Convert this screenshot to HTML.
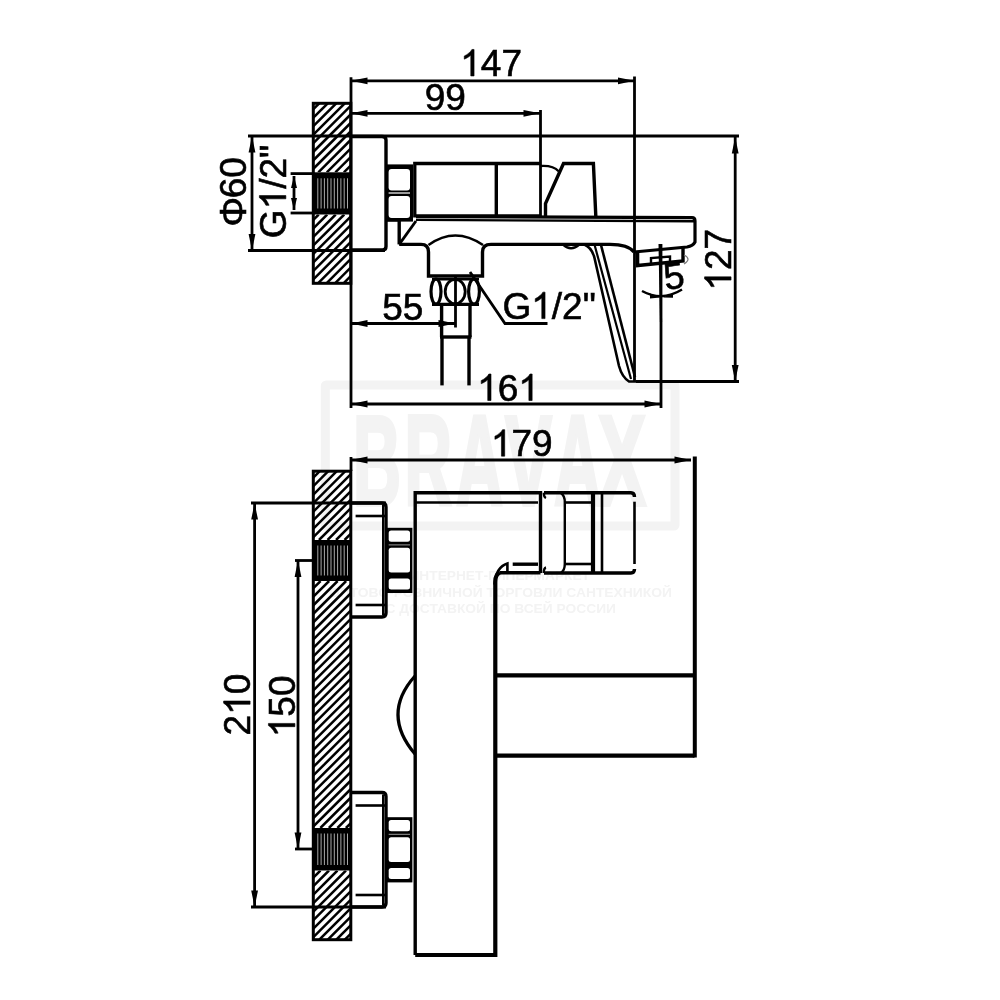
<!DOCTYPE html>
<html><head><meta charset="utf-8"><style>
html,body{margin:0;padding:0;background:#fff;width:1000px;height:1000px;overflow:hidden}
svg{display:block;will-change:transform}
text{font-family:"Liberation Sans",sans-serif;fill:#000}
</style></head><body>
<svg width="1000" height="1000" viewBox="0 0 1000 1000">
<defs><clipPath id="c1"><rect x="313.3" y="103.3" width="37.5" height="69.00000000000001"/></clipPath><clipPath id="c2"><rect x="313.3" y="214.5" width="37.5" height="68.80000000000001"/></clipPath><clipPath id="c3"><rect x="313.3" y="471.2" width="37.5" height="68.80000000000001"/></clipPath><clipPath id="c4"><rect x="313.3" y="581" width="37.5" height="247"/></clipPath><clipPath id="c5"><rect x="313.3" y="870.5" width="37.5" height="69.20000000000005"/></clipPath></defs>
<rect width="1000" height="1000" fill="#fff"/>
<rect x="325.3" y="385" width="349.7" height="141" rx="1" fill="none" stroke="#f3f3f3" stroke-width="9"/><text x="353" y="505" font-size="128" font-weight="bold" style="fill:#f3f3f3;stroke:#f3f3f3;stroke-width:4;font-family:'Liberation Sans'" textLength="48" lengthAdjust="spacingAndGlyphs">B</text><text x="404.5" y="505" font-size="128" font-weight="bold" style="fill:#f3f3f3;stroke:#f3f3f3;stroke-width:4;font-family:'Liberation Sans'" textLength="47.5" lengthAdjust="spacingAndGlyphs">R</text><text x="456" y="505" font-size="128" font-weight="bold" style="fill:#f3f3f3;stroke:#f3f3f3;stroke-width:4;font-family:'Liberation Sans'" textLength="47" lengthAdjust="spacingAndGlyphs">A</text><text x="505" y="505" font-size="128" font-weight="bold" style="fill:#f3f3f3;stroke:#f3f3f3;stroke-width:4;font-family:'Liberation Sans'" textLength="47" lengthAdjust="spacingAndGlyphs">V</text><text x="554" y="505" font-size="128" font-weight="bold" style="fill:#f3f3f3;stroke:#f3f3f3;stroke-width:4;font-family:'Liberation Sans'" textLength="47" lengthAdjust="spacingAndGlyphs">A</text><text x="598" y="505" font-size="128" font-weight="bold" style="fill:#f3f3f3;stroke:#f3f3f3;stroke-width:4;font-family:'Liberation Sans'" textLength="48" lengthAdjust="spacingAndGlyphs">X</text><text x="409.5" y="579.7" font-size="12.5" font-weight="bold" style="fill:#f3f3f3;font-family:'Liberation Sans'" textLength="180.5" lengthAdjust="spacingAndGlyphs">ИНТЕРНЕТ-ГИПЕРМАРКЕТ</text><text x="329" y="596.5" font-size="12.5" font-weight="bold" style="fill:#f3f3f3;font-family:'Liberation Sans'" textLength="343" lengthAdjust="spacingAndGlyphs">ОПТОВО-РОЗНИЧНОЙ ТОРГОВЛИ САНТЕХНИКОЙ</text><text x="385.5" y="613.3" font-size="12.5" font-weight="bold" style="fill:#f3f3f3;font-family:'Liberation Sans'" textLength="230.5" lengthAdjust="spacingAndGlyphs">С ДОСТАВКОЙ ПО ВСЕЙ РОССИИ</text><g clip-path="url(#c1)" stroke="#000" stroke-width="2.5"><line x1="233.24" y1="172.30" x2="302.24" y2="103.30"/><line x1="241.75" y1="172.30" x2="310.75" y2="103.30"/><line x1="250.26" y1="172.30" x2="319.26" y2="103.30"/><line x1="258.77" y1="172.30" x2="327.77" y2="103.30"/><line x1="267.28" y1="172.30" x2="336.28" y2="103.30"/><line x1="275.79" y1="172.30" x2="344.79" y2="103.30"/><line x1="284.30" y1="172.30" x2="353.30" y2="103.30"/><line x1="292.81" y1="172.30" x2="361.81" y2="103.30"/><line x1="301.32" y1="172.30" x2="370.32" y2="103.30"/><line x1="309.83" y1="172.30" x2="378.83" y2="103.30"/><line x1="318.34" y1="172.30" x2="387.34" y2="103.30"/><line x1="326.85" y1="172.30" x2="395.85" y2="103.30"/><line x1="335.36" y1="172.30" x2="404.36" y2="103.30"/><line x1="343.87" y1="172.30" x2="412.87" y2="103.30"/><line x1="352.38" y1="172.30" x2="421.38" y2="103.30"/></g><g clip-path="url(#c2)" stroke="#000" stroke-width="2.5"><line x1="232.87" y1="283.30" x2="301.67" y2="214.50"/><line x1="241.38" y1="283.30" x2="310.18" y2="214.50"/><line x1="249.89" y1="283.30" x2="318.69" y2="214.50"/><line x1="258.40" y1="283.30" x2="327.20" y2="214.50"/><line x1="266.91" y1="283.30" x2="335.71" y2="214.50"/><line x1="275.42" y1="283.30" x2="344.22" y2="214.50"/><line x1="283.93" y1="283.30" x2="352.73" y2="214.50"/><line x1="292.44" y1="283.30" x2="361.24" y2="214.50"/><line x1="300.95" y1="283.30" x2="369.75" y2="214.50"/><line x1="309.46" y1="283.30" x2="378.26" y2="214.50"/><line x1="317.97" y1="283.30" x2="386.77" y2="214.50"/><line x1="326.48" y1="283.30" x2="395.28" y2="214.50"/><line x1="334.99" y1="283.30" x2="403.79" y2="214.50"/><line x1="343.50" y1="283.30" x2="412.30" y2="214.50"/><line x1="352.01" y1="283.30" x2="420.81" y2="214.50"/></g><rect x="313.3" y="172.3" width="37.5" height="42.19999999999999" fill="#000"/><g stroke="#bbb" stroke-width="0.9"><line x1="317.8" y1="178.3" x2="317.8" y2="208.5"/><line x1="321.1" y1="178.3" x2="321.1" y2="208.5"/><line x1="324.4" y1="178.3" x2="324.4" y2="208.5"/><line x1="327.7" y1="178.3" x2="327.7" y2="208.5"/><line x1="331.0" y1="178.3" x2="331.0" y2="208.5"/><line x1="334.3" y1="178.3" x2="334.3" y2="208.5"/><line x1="337.6" y1="178.3" x2="337.6" y2="208.5"/><line x1="340.9" y1="178.3" x2="340.9" y2="208.5"/><line x1="344.2" y1="178.3" x2="344.2" y2="208.5"/><line x1="347.5" y1="178.3" x2="347.5" y2="208.5"/></g><rect x="313.3" y="103.3" width="37.5" height="180.0" rx="0" stroke="#000" stroke-width="3" fill="none"/><line x1="351" y1="77.3" x2="351" y2="408" stroke="#000" stroke-width="2.8"/><line x1="351" y1="80.8" x2="634.5" y2="80.8" stroke="#000" stroke-width="2.8"/><path d="M351.0,80.8 L367.5,77.4 L367.5,84.2 Z" fill="#000"/><path d="M634.5,80.8 L618.0,84.2 L618.0,77.4 Z" fill="#000"/><line x1="634.5" y1="76.5" x2="634.5" y2="381" stroke="#000" stroke-width="2.8"/><g transform="translate(460.25,75.95)"><text x="0" y="0" font-size="37" style="stroke:#000;stroke-width:0.6"><tspan x="20.57">4</tspan><tspan x="41.14">7</tspan></text><path transform="translate(0.00,0) scale(37)" d="M0.373,0 L0.285,0 L0.285,-0.560 Q0.253,-0.530 0.201,-0.499 Q0.149,-0.469 0.109,-0.454 L0.109,-0.539 Q0.182,-0.573 0.237,-0.622 Q0.292,-0.671 0.315,-0.716 L0.373,-0.716 Z" fill="#000" stroke="#000" stroke-width="0.0162"/></g><line x1="351" y1="113.3" x2="540" y2="113.3" stroke="#000" stroke-width="2.8"/><path d="M351.0,113.3 L367.5,109.9 L367.5,116.7 Z" fill="#000"/><path d="M540.0,113.3 L523.5,116.7 L523.5,109.9 Z" fill="#000"/><line x1="540.5" y1="110" x2="540.5" y2="216" stroke="#000" stroke-width="2.8"/><g transform="translate(424.75,110.12)"><text x="0" y="0" font-size="37" style="stroke:#000;stroke-width:0.6"><tspan x="0.00">9</tspan><tspan x="20.57">9</tspan></text></g><line x1="248" y1="136" x2="739" y2="136" stroke="#000" stroke-width="2.8"/><line x1="248" y1="250.5" x2="385" y2="250.5" stroke="#000" stroke-width="2.8"/><line x1="252" y1="136" x2="252" y2="250.5" stroke="#000" stroke-width="2.8"/><path d="M252.0,136.0 L255.4,152.5 L248.6,152.5 Z" fill="#000"/><path d="M252.0,250.5 L248.6,234.0 L255.4,234.0 Z" fill="#000"/><g transform="translate(233.75,191.50) rotate(-90) translate(-35.00,12.62)"><text x="0" y="0" font-size="37" style="stroke:#000;stroke-width:0.6"><tspan x="0.00">Φ</tspan><tspan x="28.27">6</tspan><tspan x="48.84">0</tspan></text></g><line x1="290.6" y1="173.6" x2="313" y2="173.6" stroke="#000" stroke-width="2.8"/><line x1="290.6" y1="213" x2="313" y2="213" stroke="#000" stroke-width="2.8"/><line x1="294" y1="176" x2="294" y2="210" stroke="#000" stroke-width="2.8"/><path d="M294.0,176.0 L297.0,188.0 L291.0,188.0 Z" fill="#000"/><path d="M294.0,210.0 L291.0,198.0 L297.0,198.0 Z" fill="#000"/><g transform="translate(272.75,191.40) rotate(-90) translate(-46.75,13.12)"><text x="0" y="0" font-size="37" style="stroke:#000;stroke-width:0.6"><tspan x="0.00">G</tspan><tspan x="49.36">/</tspan><tspan x="59.64">2</tspan><tspan x="80.22">&quot;</tspan></text><path transform="translate(28.79,0) scale(37)" d="M0.373,0 L0.285,0 L0.285,-0.560 Q0.253,-0.530 0.201,-0.499 Q0.149,-0.469 0.109,-0.454 L0.109,-0.539 Q0.182,-0.573 0.237,-0.622 Q0.292,-0.671 0.315,-0.716 L0.373,-0.716 Z" fill="#000" stroke="#000" stroke-width="0.0162"/></g><line x1="735.2" y1="137" x2="735.2" y2="381.5" stroke="#000" stroke-width="2.8"/><path d="M735.2,137.0 L738.6,153.5 L731.8,153.5 Z" fill="#000"/><path d="M735.2,381.5 L731.8,365.0 L738.6,365.0 Z" fill="#000"/><line x1="636" y1="381.5" x2="739" y2="381.5" stroke="#000" stroke-width="2.8"/><g transform="translate(717.80,258.65) rotate(-90) translate(-32.00,13.25)"><text x="0" y="0" font-size="37" style="stroke:#000;stroke-width:0.6"><tspan x="20.57">2</tspan><tspan x="41.14">7</tspan></text><path transform="translate(0.00,0) scale(37)" d="M0.373,0 L0.285,0 L0.285,-0.560 Q0.253,-0.530 0.201,-0.499 Q0.149,-0.469 0.109,-0.454 L0.109,-0.539 Q0.182,-0.573 0.237,-0.622 Q0.292,-0.671 0.315,-0.716 L0.373,-0.716 Z" fill="#000" stroke="#000" stroke-width="0.0162"/></g><line x1="351" y1="323.5" x2="455" y2="323.5" stroke="#000" stroke-width="2.8"/><path d="M351.0,323.5 L367.5,320.1 L367.5,326.9 Z" fill="#000"/><path d="M455.0,323.5 L438.5,326.9 L438.5,320.1 Z" fill="#000"/><line x1="455.5" y1="276" x2="455.5" y2="327.5" stroke="#000" stroke-width="2.8"/><g transform="translate(382.18,319.65)"><text x="0" y="0" font-size="37" style="stroke:#000;stroke-width:0.6"><tspan x="0.00">5</tspan><tspan x="20.57">5</tspan></text></g><path d="M470,272 L505,323.5 L547.5,323.5" stroke="#000" stroke-width="2.8" fill="none" /><g transform="translate(502.45,318.62)"><text x="0" y="0" font-size="37" style="stroke:#000;stroke-width:0.6"><tspan x="0.00">G</tspan><tspan x="49.36">/</tspan><tspan x="59.64">2</tspan><tspan x="80.22">&quot;</tspan></text><path transform="translate(28.79,0) scale(37)" d="M0.373,0 L0.285,0 L0.285,-0.560 Q0.253,-0.530 0.201,-0.499 Q0.149,-0.469 0.109,-0.454 L0.109,-0.539 Q0.182,-0.573 0.237,-0.622 Q0.292,-0.671 0.315,-0.716 L0.373,-0.716 Z" fill="#000" stroke="#000" stroke-width="0.0162"/></g><line x1="351" y1="404" x2="661" y2="404" stroke="#000" stroke-width="2.8"/><path d="M351.0,404.0 L367.5,400.6 L367.5,407.4 Z" fill="#000"/><path d="M661.0,404.0 L644.5,407.4 L644.5,400.6 Z" fill="#000"/><line x1="661" y1="244" x2="661" y2="408" stroke="#000" stroke-width="2.8"/><g transform="translate(477.20,400.50)"><text x="0" y="0" font-size="37" style="stroke:#000;stroke-width:0.6"><tspan x="20.57">6</tspan></text><path transform="translate(0.00,0) scale(37)" d="M0.373,0 L0.285,0 L0.285,-0.560 Q0.253,-0.530 0.201,-0.499 Q0.149,-0.469 0.109,-0.454 L0.109,-0.539 Q0.182,-0.573 0.237,-0.622 Q0.292,-0.671 0.315,-0.716 L0.373,-0.716 Z" fill="#000" stroke="#000" stroke-width="0.0162"/><path transform="translate(41.14,0) scale(37)" d="M0.373,0 L0.285,0 L0.285,-0.560 Q0.253,-0.530 0.201,-0.499 Q0.149,-0.469 0.109,-0.454 L0.109,-0.539 Q0.182,-0.573 0.237,-0.622 Q0.292,-0.671 0.315,-0.716 L0.373,-0.716 Z" fill="#000" stroke="#000" stroke-width="0.0162"/></g><path d="M351,136.5 L382,136.5 Q386,136.5 386,140 L386,246.5 Q386,250 382.5,250 L351,250" stroke="#000" stroke-width="3.4" fill="none" /><rect x="385.4" y="164.4" width="27.6" height="57.2" fill="#000"/><rect x="388.6" y="168.9" width="21.4" height="21.6" rx="3" fill="#fff"/><rect x="388.6" y="196" width="21.4" height="22" rx="3" fill="#fff"/><rect x="388.6" y="192.4" width="21.4" height="1.2" fill="#fff"/><path d="M540.5,163.5 L414.8,163.5 L414.8,215.8 L540.5,215.8" stroke="#000" stroke-width="3.3" fill="none" /><line x1="496.3" y1="163.5" x2="496.3" y2="215.8" stroke="#000" stroke-width="3.4"/><path d="M545.5,216 L545.5,203.5 L563.5,163.5 L593.4,163.5 L595.8,216" stroke="#000" stroke-width="3.4" fill="none" /><path d="M540,166 Q553,165 558.6,171.2" stroke="#000" stroke-width="2.4" fill="none" /><path d="M387,220 L399,220 M416,216.6 L692,217.6 Q695,217.6 695,221 L695,242 Q693,246 687,247 L634,252" stroke="#000" stroke-width="3.2" fill="none" /><line x1="416" y1="219.9" x2="694" y2="221.3" stroke="#000" stroke-width="2.4"/><line x1="399.2" y1="219.5" x2="399.2" y2="244.4" stroke="#000" stroke-width="3.4"/><line x1="416" y1="221" x2="399.2" y2="244.4" stroke="#000" stroke-width="2.8"/><path d="M399.2,244.4 L421,244.4 Q428.5,244.4 428.5,252 L428.5,276 L482.5,276 L482.5,252 Q482.5,244.4 491,244.4 L610,244.4 Q628,244.4 634,252" stroke="#000" stroke-width="3.4" fill="none" /><path d="M428.5,245 Q455,226 483,245" stroke="#000" stroke-width="2.6" fill="none" /><path d="M583.8,244.3 Q592,247.5 594.5,258 L619,366 Q622,377 629,381.5 L636,381.5" stroke="#000" stroke-width="2.6" fill="none" /><line x1="594.6" y1="245" x2="631" y2="379" stroke="#000" stroke-width="2.2"/><line x1="601" y1="245" x2="635" y2="377" stroke="#000" stroke-width="2.6"/><path d="M563,244.6 Q571,252 579.3,244.6" stroke="#000" stroke-width="2.4" fill="none" /><path d="M637.6,252.5 L637.6,265.5 L683,261 L683,248" stroke="#000" stroke-width="3.4" fill="none" /><path d="M651,263 L651,258 L670,256.5 L670,261" stroke="#000" stroke-width="2.4" fill="none" /><path d="M684,255 Q692,259 684,264" stroke="#777" stroke-width="1.2" fill="none" /><path d="M642,291 Q662,302 682,289.6" stroke="#000" stroke-width="2.4" fill="none" /><path d="M650,293.5 L660,297.5 L650,298.5 Z" fill="#000"/><path d="M673,293 L663,297.5 L673,297.8 Z" fill="#000"/><line x1="659.6" y1="244" x2="661" y2="322" stroke="#000" stroke-width="2.2"/><g transform="translate(673.90,276.30) rotate(-8) translate(-10.25,12.50)"><text x="0" y="0" font-size="37" style="stroke:#000;stroke-width:0.6"><tspan x="0.00">5</tspan></text></g><line x1="432" y1="279.2" x2="479" y2="279.2" stroke="#000" stroke-width="2.4"/><line x1="432" y1="304.4" x2="479" y2="304.4" stroke="#000" stroke-width="3.2"/><ellipse cx="436" cy="291.6" rx="5" ry="12.6" fill="none" stroke="#000" stroke-width="3.2"/><ellipse cx="455.2" cy="291.6" rx="10" ry="12.2" fill="none" stroke="#000" stroke-width="2.8"/><ellipse cx="474" cy="291.6" rx="5.4" ry="12.6" fill="none" stroke="#000" stroke-width="3.2"/><line x1="441.6" y1="304" x2="441.6" y2="337" stroke="#000" stroke-width="3.4"/><line x1="470" y1="304" x2="470" y2="337" stroke="#000" stroke-width="3.4"/><line x1="440" y1="337" x2="471.5" y2="337" stroke="#000" stroke-width="3.4"/><line x1="442" y1="338" x2="442" y2="385.4" stroke="#000" stroke-width="3.4"/><line x1="469" y1="338" x2="469" y2="385.4" stroke="#000" stroke-width="3.4"/><g clip-path="url(#c3)" stroke="#000" stroke-width="2.5"><line x1="233.94" y1="540.00" x2="302.74" y2="471.20"/><line x1="242.45" y1="540.00" x2="311.25" y2="471.20"/><line x1="250.96" y1="540.00" x2="319.76" y2="471.20"/><line x1="259.47" y1="540.00" x2="328.27" y2="471.20"/><line x1="267.98" y1="540.00" x2="336.78" y2="471.20"/><line x1="276.49" y1="540.00" x2="345.29" y2="471.20"/><line x1="285.00" y1="540.00" x2="353.80" y2="471.20"/><line x1="293.51" y1="540.00" x2="362.31" y2="471.20"/><line x1="302.02" y1="540.00" x2="370.82" y2="471.20"/><line x1="310.53" y1="540.00" x2="379.33" y2="471.20"/><line x1="319.04" y1="540.00" x2="387.84" y2="471.20"/><line x1="327.55" y1="540.00" x2="396.35" y2="471.20"/><line x1="336.06" y1="540.00" x2="404.86" y2="471.20"/><line x1="344.57" y1="540.00" x2="413.37" y2="471.20"/><line x1="353.08" y1="540.00" x2="421.88" y2="471.20"/></g><g clip-path="url(#c4)" stroke="#000" stroke-width="2.5"><line x1="56.57" y1="828.00" x2="303.57" y2="581.00"/><line x1="65.08" y1="828.00" x2="312.08" y2="581.00"/><line x1="73.59" y1="828.00" x2="320.59" y2="581.00"/><line x1="82.10" y1="828.00" x2="329.10" y2="581.00"/><line x1="90.61" y1="828.00" x2="337.61" y2="581.00"/><line x1="99.12" y1="828.00" x2="346.12" y2="581.00"/><line x1="107.63" y1="828.00" x2="354.63" y2="581.00"/><line x1="116.14" y1="828.00" x2="363.14" y2="581.00"/><line x1="124.65" y1="828.00" x2="371.65" y2="581.00"/><line x1="133.16" y1="828.00" x2="380.16" y2="581.00"/><line x1="141.67" y1="828.00" x2="388.67" y2="581.00"/><line x1="150.18" y1="828.00" x2="397.18" y2="581.00"/><line x1="158.69" y1="828.00" x2="405.69" y2="581.00"/><line x1="167.20" y1="828.00" x2="414.20" y2="581.00"/><line x1="175.71" y1="828.00" x2="422.71" y2="581.00"/><line x1="184.22" y1="828.00" x2="431.22" y2="581.00"/><line x1="192.73" y1="828.00" x2="439.73" y2="581.00"/><line x1="201.24" y1="828.00" x2="448.24" y2="581.00"/><line x1="209.75" y1="828.00" x2="456.75" y2="581.00"/><line x1="218.26" y1="828.00" x2="465.26" y2="581.00"/><line x1="226.77" y1="828.00" x2="473.77" y2="581.00"/><line x1="235.28" y1="828.00" x2="482.28" y2="581.00"/><line x1="243.79" y1="828.00" x2="490.79" y2="581.00"/><line x1="252.30" y1="828.00" x2="499.30" y2="581.00"/><line x1="260.81" y1="828.00" x2="507.81" y2="581.00"/><line x1="269.32" y1="828.00" x2="516.32" y2="581.00"/><line x1="277.83" y1="828.00" x2="524.83" y2="581.00"/><line x1="286.34" y1="828.00" x2="533.34" y2="581.00"/><line x1="294.85" y1="828.00" x2="541.85" y2="581.00"/><line x1="303.36" y1="828.00" x2="550.36" y2="581.00"/><line x1="311.87" y1="828.00" x2="558.87" y2="581.00"/><line x1="320.38" y1="828.00" x2="567.38" y2="581.00"/><line x1="328.89" y1="828.00" x2="575.89" y2="581.00"/><line x1="337.40" y1="828.00" x2="584.40" y2="581.00"/><line x1="345.91" y1="828.00" x2="592.91" y2="581.00"/><line x1="354.42" y1="828.00" x2="601.42" y2="581.00"/></g><g clip-path="url(#c5)" stroke="#000" stroke-width="2.5"><line x1="234.21" y1="939.70" x2="303.41" y2="870.50"/><line x1="242.72" y1="939.70" x2="311.92" y2="870.50"/><line x1="251.23" y1="939.70" x2="320.43" y2="870.50"/><line x1="259.74" y1="939.70" x2="328.94" y2="870.50"/><line x1="268.25" y1="939.70" x2="337.45" y2="870.50"/><line x1="276.76" y1="939.70" x2="345.96" y2="870.50"/><line x1="285.27" y1="939.70" x2="354.47" y2="870.50"/><line x1="293.78" y1="939.70" x2="362.98" y2="870.50"/><line x1="302.29" y1="939.70" x2="371.49" y2="870.50"/><line x1="310.80" y1="939.70" x2="380.00" y2="870.50"/><line x1="319.31" y1="939.70" x2="388.51" y2="870.50"/><line x1="327.82" y1="939.70" x2="397.02" y2="870.50"/><line x1="336.33" y1="939.70" x2="405.53" y2="870.50"/><line x1="344.84" y1="939.70" x2="414.04" y2="870.50"/><line x1="353.35" y1="939.70" x2="422.55" y2="870.50"/></g><rect x="313.3" y="540" width="37.5" height="41" fill="#000"/><g stroke="#bbb" stroke-width="0.9"><line x1="317.8" y1="545.5" x2="317.8" y2="575.5"/><line x1="321.1" y1="545.5" x2="321.1" y2="575.5"/><line x1="324.4" y1="545.5" x2="324.4" y2="575.5"/><line x1="327.7" y1="545.5" x2="327.7" y2="575.5"/><line x1="331.0" y1="545.5" x2="331.0" y2="575.5"/><line x1="334.3" y1="545.5" x2="334.3" y2="575.5"/><line x1="337.6" y1="545.5" x2="337.6" y2="575.5"/><line x1="340.9" y1="545.5" x2="340.9" y2="575.5"/><line x1="344.2" y1="545.5" x2="344.2" y2="575.5"/><line x1="347.5" y1="545.5" x2="347.5" y2="575.5"/></g><rect x="313.3" y="828" width="37.5" height="42.5" fill="#000"/><g stroke="#bbb" stroke-width="0.9"><line x1="317.8" y1="833.5" x2="317.8" y2="865.0"/><line x1="321.1" y1="833.5" x2="321.1" y2="865.0"/><line x1="324.4" y1="833.5" x2="324.4" y2="865.0"/><line x1="327.7" y1="833.5" x2="327.7" y2="865.0"/><line x1="331.0" y1="833.5" x2="331.0" y2="865.0"/><line x1="334.3" y1="833.5" x2="334.3" y2="865.0"/><line x1="337.6" y1="833.5" x2="337.6" y2="865.0"/><line x1="340.9" y1="833.5" x2="340.9" y2="865.0"/><line x1="344.2" y1="833.5" x2="344.2" y2="865.0"/><line x1="347.5" y1="833.5" x2="347.5" y2="865.0"/></g><rect x="313.3" y="471.2" width="37.5" height="468.50000000000006" rx="0" stroke="#000" stroke-width="3" fill="none"/><line x1="351" y1="457" x2="351" y2="471" stroke="#000" stroke-width="2.8"/><line x1="351" y1="460" x2="691" y2="460" stroke="#000" stroke-width="2.8"/><path d="M351.0,460.0 L367.5,456.6 L367.5,463.4 Z" fill="#000"/><path d="M691.0,460.0 L674.5,463.4 L674.5,456.6 Z" fill="#000"/><line x1="694.8" y1="456.6" x2="694.8" y2="757.5" stroke="#000" stroke-width="4.0"/><g transform="translate(490.90,456.15)"><text x="0" y="0" font-size="37" style="stroke:#000;stroke-width:0.6"><tspan x="20.57">7</tspan><tspan x="41.14">9</tspan></text><path transform="translate(0.00,0) scale(37)" d="M0.373,0 L0.285,0 L0.285,-0.560 Q0.253,-0.530 0.201,-0.499 Q0.149,-0.469 0.109,-0.454 L0.109,-0.539 Q0.182,-0.573 0.237,-0.622 Q0.292,-0.671 0.315,-0.716 L0.373,-0.716 Z" fill="#000" stroke="#000" stroke-width="0.0162"/></g><line x1="251" y1="503" x2="386" y2="503" stroke="#000" stroke-width="2.8"/><line x1="251" y1="907" x2="386" y2="907" stroke="#000" stroke-width="2.8"/><line x1="254.6" y1="503" x2="254.6" y2="907" stroke="#000" stroke-width="2.8"/><path d="M254.6,503.0 L258.0,519.5 L251.2,519.5 Z" fill="#000"/><path d="M254.6,907.0 L251.2,890.5 L258.0,890.5 Z" fill="#000"/><g transform="translate(237.10,704.40) rotate(-90) translate(-31.00,13.00)"><text x="0" y="0" font-size="37" style="stroke:#000;stroke-width:0.6"><tspan x="0.00">2</tspan><tspan x="41.14">0</tspan></text><path transform="translate(20.57,0) scale(37)" d="M0.373,0 L0.285,0 L0.285,-0.560 Q0.253,-0.530 0.201,-0.499 Q0.149,-0.469 0.109,-0.454 L0.109,-0.539 Q0.182,-0.573 0.237,-0.622 Q0.292,-0.671 0.315,-0.716 L0.373,-0.716 Z" fill="#000" stroke="#000" stroke-width="0.0162"/></g><line x1="295" y1="560.5" x2="313" y2="560.5" stroke="#000" stroke-width="2.8"/><line x1="295" y1="849" x2="313" y2="849" stroke="#000" stroke-width="2.8"/><line x1="298" y1="560.5" x2="298" y2="849" stroke="#000" stroke-width="2.8"/><path d="M298.0,560.5 L301.4,577.0 L294.6,577.0 Z" fill="#000"/><path d="M298.0,849.0 L294.6,832.5 L301.4,832.5 Z" fill="#000"/><g transform="translate(281.90,705.10) rotate(-90) translate(-32.12,13.00)"><text x="0" y="0" font-size="37" style="stroke:#000;stroke-width:0.6"><tspan x="20.57">5</tspan><tspan x="41.14">0</tspan></text><path transform="translate(0.00,0) scale(37)" d="M0.373,0 L0.285,0 L0.285,-0.560 Q0.253,-0.530 0.201,-0.499 Q0.149,-0.469 0.109,-0.454 L0.109,-0.539 Q0.182,-0.573 0.237,-0.622 Q0.292,-0.671 0.315,-0.716 L0.373,-0.716 Z" fill="#000" stroke="#000" stroke-width="0.0162"/></g><path d="M351,503 L382,503 Q386,503 386,507 L386,613 Q386,617 382,617 L351,617" stroke="#000" stroke-width="3.4" fill="none" /><line x1="383" y1="505" x2="383" y2="615" stroke="#000" stroke-width="2.0"/><line x1="355.6" y1="516" x2="385" y2="516" stroke="#000" stroke-width="2.6"/><line x1="355.6" y1="605" x2="385" y2="605" stroke="#000" stroke-width="2.6"/><path d="M351,792.5 L382,792.5 Q386,792.5 386,796.5 L386,903 Q386,907 382,907 L351,907" stroke="#000" stroke-width="3.4" fill="none" /><line x1="383" y1="794.5" x2="383" y2="905" stroke="#000" stroke-width="2.0"/><line x1="355.6" y1="805.5" x2="385" y2="805.5" stroke="#000" stroke-width="2.6"/><line x1="355.6" y1="895" x2="385" y2="895" stroke="#000" stroke-width="2.6"/><rect x="386" y="527.8" width="26.4" height="65.2" fill="#000"/><rect x="388.7" y="530.6" width="21.3" height="11.2" rx="2.5" fill="#fff"/><rect x="388.7" y="547.8" width="21.3" height="24.8" rx="2.5" fill="#fff"/><rect x="388.7" y="578.6" width="21.3" height="11.0" rx="2.5" fill="#fff"/><rect x="388.7" y="544.4" width="21.3" height="1" fill="#999"/><rect x="386" y="817.2" width="26.4" height="65.2" fill="#000"/><rect x="388.7" y="820.0" width="21.3" height="11.2" rx="2.5" fill="#fff"/><rect x="388.7" y="837.2" width="21.3" height="24.8" rx="2.5" fill="#fff"/><rect x="388.7" y="868.0" width="21.3" height="11.0" rx="2.5" fill="#fff"/><rect x="388.7" y="833.8" width="21.3" height="1" fill="#999"/><path d="M415.2,955 L415.2,492.8 L540.5,492.8 L540.5,573" stroke="#000" stroke-width="3.4" fill="none" /><path d="M500,572.8 Q495.3,574 495.3,582 L495.3,955 L415.2,955" stroke="#000" stroke-width="4.2" fill="none" /><line x1="500" y1="572.8" x2="540.5" y2="572.8" stroke="#000" stroke-width="3.4"/><path d="M494.5,584.5 Q496,567 507.4,563.5 L507.4,571" stroke="#000" stroke-width="2.6" fill="none" /><line x1="512.7" y1="564.2" x2="538" y2="564.2" stroke="#000" stroke-width="3.4"/><line x1="415.4" y1="502.5" x2="538" y2="502.5" stroke="#000" stroke-width="2.6"/><path d="M544,492.7 L631,492.7 Q634.5,492.7 634.5,497 M544,573 L631,573 Q634.5,573 634.5,569" stroke="#000" stroke-width="3.4" fill="none" /><path d="M543.8,492.7 Q543.8,497 546,498 M543.8,573 Q543.8,568 546,567.5" stroke="#000" stroke-width="2.4" fill="none" /><path d="M561,493 Q564.8,496 564.8,502 L564.8,564 Q564.8,570 561,573" stroke="#000" stroke-width="2.4" fill="none" /><line x1="565" y1="502.5" x2="591.5" y2="502.5" stroke="#000" stroke-width="2.6"/><line x1="565" y1="564" x2="591.5" y2="564" stroke="#000" stroke-width="2.6"/><line x1="593" y1="492.7" x2="593" y2="573" stroke="#000" stroke-width="4.2"/><line x1="602" y1="492.7" x2="602" y2="573" stroke="#000" stroke-width="2.6"/><line x1="634.5" y1="501.7" x2="634.5" y2="564" stroke="#000" stroke-width="2.6"/><path d="M495.3,675.4 L694.5,675.4 M694.5,755.6 L495.3,755.6" stroke="#000" stroke-width="4.2" fill="none" /><path d="M415,676 Q381,714 415,754" stroke="#000" stroke-width="3.2" fill="none" />
</svg></body></html>
